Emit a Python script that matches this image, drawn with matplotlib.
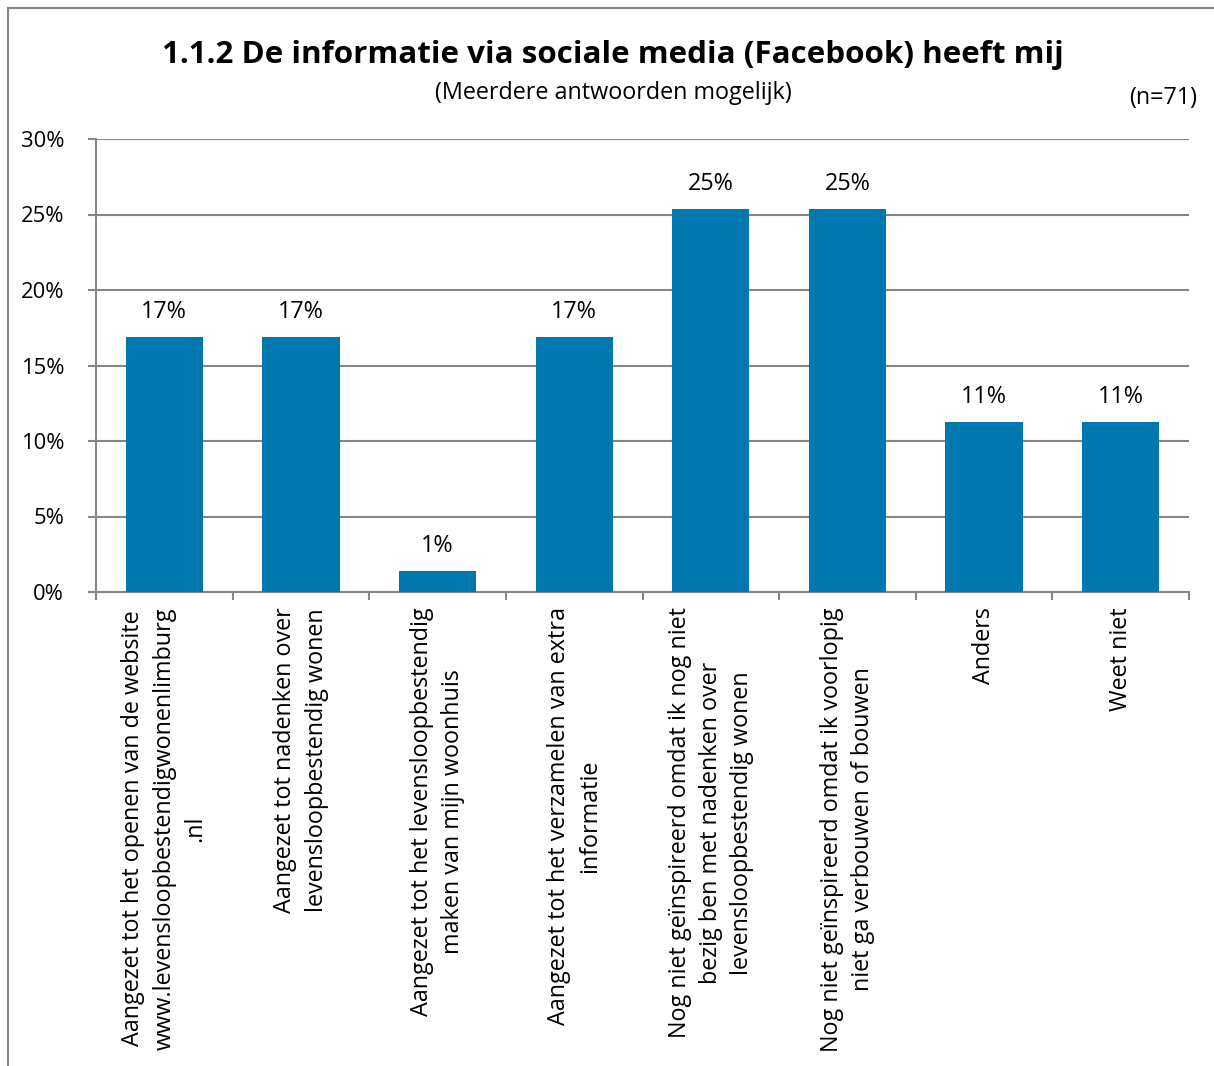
import matplotlib
matplotlib.use("Agg")
import matplotlib.pyplot as plt
from matplotlib.lines import Line2D

categories = [
    "Aangezet tot het openen van de website\nwww.levensloopbestendigwonenlimburg\n.nl",
    "Aangezet tot nadenken over\nlevensloopbestendig wonen",
    "Aangezet tot het levensloopbestendig\nmaken van mijn woonhuis",
    "Aangezet tot het verzamelen van extra\ninformatie",
    "Nog niet geïnspireerd omdat ik nog niet\nbezig ben met nadenken over\nlevensloopbestendig wonen",
    "Nog niet geïnspireerd omdat ik voorlopig\nniet ga verbouwen of bouwen",
    "Anders",
    "Weet niet",
]
values = [16.9, 16.9, 1.4, 16.9, 25.35, 25.35, 11.27, 11.27]
value_labels = ["17%", "17%", "1%", "17%", "25%", "25%", "11%", "11%"]
yticks = [0, 5, 10, 15, 20, 25, 30]
ytick_labels = ["0%", "5%", "10%", "15%", "20%", "25%", "30%"]

plt.rcParams['font.family'] = ['Open Sans', 'DejaVu Sans']

W, H = 1214, 1066
fig = plt.figure(figsize=(W / 100, H / 100), dpi=100)
ax = fig.add_axes([96 / W, 1 - 592 / H, (1189 - 96) / W, (592 - 139) / H])

bar_color = "#0077AE"
grid_color = "#868686"
fs = 16.8
x = list(range(len(categories)))
ax.bar(x, values, width=0.565, color=bar_color, zorder=3)
for xi, v, lab in zip(x, values, value_labels):
    ax.annotate(lab, (xi, v), xytext=(0, 18), textcoords="offset points",
                ha="center", va="center", fontsize=fs, color="black")

ax.set_xlim(-0.5, len(categories) - 0.5)
ax.set_ylim(0, 30)
ax.set_yticks(yticks)
ax.set_yticklabels(ytick_labels, fontsize=15.8)
ax.yaxis.grid(True, color=grid_color, linewidth=1.5, zorder=0)
ax.set_axisbelow(True)

ax.set_xticks(x)
ax.set_xticklabels(categories, rotation=90, fontsize=fs, linespacing=1.4)
ax.set_xticks([i - 0.5 for i in range(len(categories) + 1)], minor=True)
ax.tick_params(axis="x", which="major", length=0, pad=11)
ax.tick_params(axis="x", which="minor", length=6, width=1.5, color=grid_color)
ax.tick_params(axis="y", length=6, width=1.5, color=grid_color, pad=17)

for s in ["top", "right"]:
    ax.spines[s].set_visible(False)
for s in ["left", "bottom"]:
    ax.spines[s].set_color(grid_color)
    ax.spines[s].set_linewidth(1.5)

fig.text(613 / W, 1 - 55 / H, "1.1.2 De informatie via sociale media (Facebook) heeft mij",
         ha="center", va="center", fontsize=22.6, fontweight="bold")
fig.text(613 / W, 1 - 93 / H, "(Meerdere antwoorden mogelijk)",
         ha="center", va="center", fontsize=fs)
fig.text(1197 / W, 1 - 98 / H, "(n=71)", ha="right", va="center", fontsize=fs)

# outer frame (top and left edges visible)
fig.add_artist(Line2D([8 / W, 1], [1 - 8 / H, 1 - 8 / H], color=grid_color, linewidth=1.5))
fig.add_artist(Line2D([8 / W, 8 / W], [1 - 8 / H, 0], color=grid_color, linewidth=1.5))

fig.savefig("out.png", dpi=100, facecolor="white")
